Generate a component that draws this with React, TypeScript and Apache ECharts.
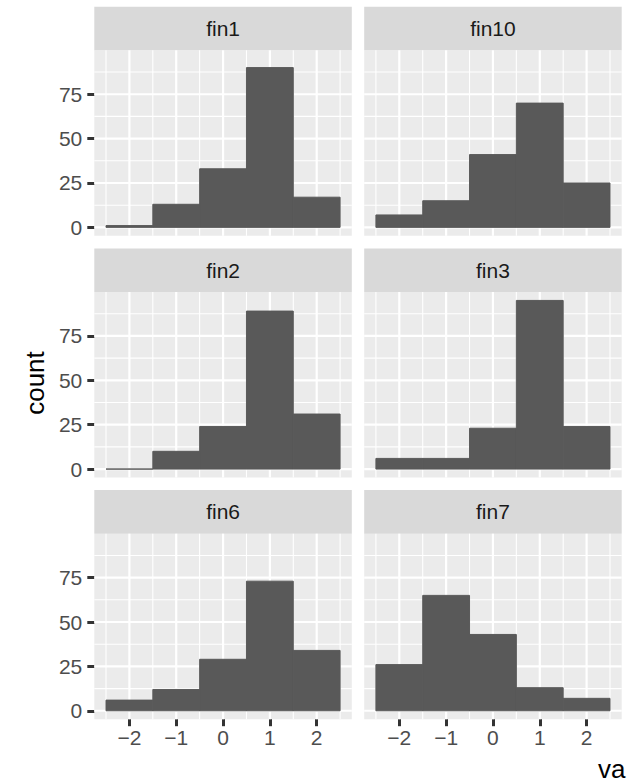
import React, { useEffect, useRef } from 'react';
import * as echarts from 'echarts';

// ---- data ----
const facets = ['fin1', 'fin10', 'fin2', 'fin3', 'fin6', 'fin7'];
const binCenters = [-2, -1, 0, 1, 2];
const binWidth = 1;
const fin1 = [1, 13, 33, 90, 17];
const fin10 = [7, 15, 41, 70, 25];
const fin2 = [0, 10, 24, 89, 31];
const fin3 = [6, 6, 23, 95, 24];
const fin6 = [6, 12, 29, 73, 34];
const fin7 = [26, 65, 43, 13, 7];
const counts = [fin1, fin10, fin2, fin3, fin6, fin7];
const xTicks = [-2, -1, 0, 1, 2];
const xMinorGrid = [-2.5, -1.5, -0.5, 0.5, 1.5, 2.5];
const yTicks = [0, 25, 50, 75];
const yMinorGrid = [12.5, 37.5, 62.5, 87.5];
const yTitle = 'count';
const xTitle = 'va';

// ---- scales (ggplot-style 5% expansion) ----
const xLo = binCenters[0] - binWidth / 2;
const xHi = binCenters[binCenters.length - 1] + binWidth / 2;
const X_MIN = xLo - 0.05 * (xHi - xLo);
const X_MAX = xHi + 0.05 * (xHi - xLo);
const yMaxData = Math.max(...counts.flat());
const Y_MIN = -0.05 * yMaxData;
const Y_MAX = yMaxData * 1.05;

// ---- layout ----
const COL_LEFT = [94.3, 364.2];
const PANEL_W = 257.5;
const ROW_TOP = [50.3, 292, 533.7];
const PANEL_H = 185.5;
const STRIP_H = 43.6;
const FONT = '"Liberation Sans", Arial, sans-serif';

const fmtX = (v: number) => (v < 0 ? '\u2212' + Math.abs(v) : String(v));

export default function App() {
  const ref = useRef<HTMLDivElement>(null);
  useEffect(() => {
    if (!ref.current) return;
    const chart = echarts.init(ref.current, undefined, { renderer: 'svg' });
    const grids: any[] = [];
    const xAxes: any[] = [];
    const yAxes: any[] = [];
    const series: any[] = [];
    const graphics: any[] = [];

    facets.forEach((name, i) => {
      const col = i % 2;
      const row = Math.floor(i / 2);
      const left = COL_LEFT[col];
      const top = ROW_TOP[row];
      grids.push({
        left, top, width: PANEL_W, height: PANEL_H,
        containLabel: false, outerBoundsMode: 'none',
        show: true, backgroundColor: '#EBEBEB', borderWidth: 0,
      });
      const bottomRow = row === 2;
      const leftCol = col === 0;
      xAxes.push({
        type: 'value', gridIndex: i, min: X_MIN, max: X_MAX, position: 'bottom',
        axisLine: { show: false, onZero: false },
        splitLine: { show: false },
        axisTick: {
          show: bottomRow, length: 7, customValues: xTicks,
          lineStyle: { color: '#333333', width: 3 },
        },
        axisLabel: {
          show: bottomRow, customValues: xTicks, margin: 8,
          color: '#4D4D4D', fontSize: 21, fontFamily: FONT,
          formatter: (v: number) => fmtX(v),
        },
      });
      yAxes.push({
        type: 'value', gridIndex: i, min: Y_MIN, max: Y_MAX, position: 'left',
        axisLine: { show: false, onZero: false },
        splitLine: { show: false },
        axisTick: {
          show: leftCol, length: 7, customValues: yTicks,
          lineStyle: { color: '#333333', width: 3 },
        },
        axisLabel: {
          show: leftCol, customValues: yTicks, margin: 12,
          color: '#4D4D4D', fontSize: 21, fontFamily: FONT,
        },
      });
      const gridData = [
        ...xMinorGrid.map((v) => [v, 0, 0]),
        ...yMinorGrid.map((v) => [v, 1, 0]),
        ...xTicks.map((v) => [v, 0, 1]),
        ...yTicks.map((v) => [v, 1, 1]),
      ];
      series.push({
        type: 'custom', xAxisIndex: i, yAxisIndex: i, z: 1, silent: true,
        data: gridData,
        renderItem: (_p: any, api: any) => {
          const v = api.value(0);
          const dir = api.value(1);
          const major = api.value(2);
          let a, b;
          if (dir === 0) { a = api.coord([v, Y_MIN]); b = api.coord([v, Y_MAX]); }
          else { a = api.coord([X_MIN, v]); b = api.coord([X_MAX, v]); }
          return {
            type: 'line',
            shape: { x1: a[0], y1: a[1], x2: b[0], y2: b[1] },
            style: { stroke: '#FFFFFF', lineWidth: major ? 2.2 : 1.1 },
          };
        },
      });
      series.push({
        type: 'custom', xAxisIndex: i, yAxisIndex: i, z: 2, silent: true,
        data: binCenters.map((c, k) => [c, counts[i][k]]),
        encode: { x: 0, y: 1 },
        renderItem: (_p: any, api: any) => {
          const c = api.value(0);
          const n = api.value(1);
          const p0 = api.coord([c - binWidth / 2, n]);
          const p1 = api.coord([c + binWidth / 2, 0]);
          return {
            type: 'rect',
            shape: { x: p0[0], y: p0[1], width: p1[0] - p0[0], height: p1[1] - p0[1] },
            style: { fill: '#595959', stroke: '#595959', lineWidth: 1 },
          };
        },
      });
      graphics.push({
        type: 'rect', silent: true,
        shape: { x: left, y: top - STRIP_H, width: PANEL_W, height: STRIP_H },
        style: { fill: '#D9D9D9' },
      });
      graphics.push({
        type: 'text', silent: true,
        x: left + PANEL_W / 2, y: top - STRIP_H / 2,
        style: {
          text: name, fill: '#1A1A1A', fontSize: 21, fontFamily: FONT,
          align: 'center', verticalAlign: 'middle',
        },
      });
    });

    graphics.push({
      type: 'text', silent: true, x: 35, y: 383, rotation: Math.PI / 2,
      style: {
        text: yTitle, fill: '#000000', fontSize: 26, fontFamily: FONT,
        align: 'center', verticalAlign: 'middle',
      },
    });
    graphics.push({
      type: 'text', silent: true, x: 598, y: 769,
      style: {
        text: xTitle, fill: '#000000', fontSize: 26, fontFamily: FONT,
        align: 'left', verticalAlign: 'middle',
      },
    });

    chart.setOption({
      animation: false,
      backgroundColor: '#FFFFFF',
      grid: grids,
      xAxis: xAxes,
      yAxis: yAxes,
      series,
      graphic: graphics,
    });
    return () => chart.dispose();
  }, []);
  return (
    <div
      ref={ref}
      style={{ position: 'absolute', left: 0, top: 0, width: 636, height: 781 }}
    />
  );
}
